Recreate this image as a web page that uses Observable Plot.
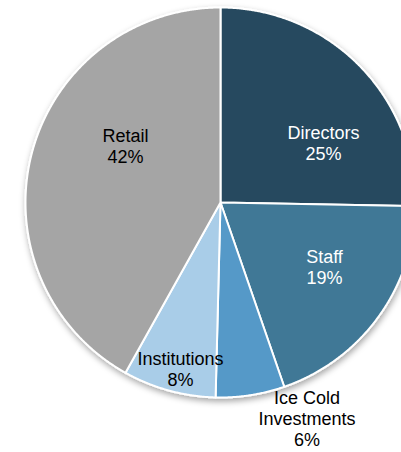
<!DOCTYPE html>
<html>
<head>
<meta charset="utf-8">
<script src="https://cdn.jsdelivr.net/npm/d3@7"></script>
<script src="https://cdn.jsdelivr.net/npm/@observablehq/plot@0.6"></script>
<style>
  html, body { margin: 0; padding: 0; background: #fff; overflow: hidden; }
  svg { overflow: hidden; }
</style>
</head>
<body>
<div id="chart"></div>
<script>
// Data
const categories = ["Directors", "Staff", "Ice Cold Investments", "Institutions", "Retail"];
const shares = [25.3, 19.4, 5.7, 7.7, 41.9];
const percentLabels = ["25%", "19%", "6%", "8%", "42%"];
const labelNames = ["Directors", "Staff", "Ice Cold\nInvestments", "Institutions", "Retail"];
const colors = ["#264a5e", "#3f7896", "#5599c8", "#a9cde8", "#a5a5a5"];

// Layout (style, not data)
const W = 401, H = 452;
const R = 195;
const labelAnchors = {           // label block centres relative to pie centre
  "Directors": [103, -60],
  "Staff": [104, 64],
  "Ice Cold Investments": [86.5, 216],
  "Institutions": [-40, 166],
  "Retail": [-95, -57]
};
const labelColor = {"Directors": "white", "Staff": "white", "Ice Cold Investments": "black", "Institutions": "black", "Retail": "black"};

// Slices as polygons built from the values via d3.pie angles
const pie = d3.pie().sort(null).value(d => d)(shares);
const slicePts = [];
pie.forEach((p, i) => {
  const name = categories[i];
  slicePts.push({name, x: 0, y: 0});
  const n = Math.max(2, Math.ceil((p.endAngle - p.startAngle) / 0.005));
  for (let k = 0; k <= n; k++) {
    const a = p.startAngle + (p.endAngle - p.startAngle) * k / n;
    slicePts.push({name, x: R * Math.sin(a), y: -R * Math.cos(a)});
  }
  slicePts.push({name, x: 0, y: 0});
});

const labels = categories.map((c, i) => ({
  name: c,
  text: labelNames[i] + "\n" + percentLabels[i],
  x: labelAnchors[c][0],
  y: labelAnchors[c][1]
}));

const chart = Plot.plot({
  width: W,
  height: H,
  margin: 0,
  x: {domain: [-220, 181], range: [0, W], axis: null},
  y: {domain: [-202, 250], range: [0, H], axis: null},
  color: {domain: categories, range: colors},
  style: {fontFamily: "Liberation Sans, Arial, sans-serif", background: "white"},
  marks: [
    Plot.line(slicePts, {x: "x", y: "y", z: "name", fill: "name", stroke: "white", strokeWidth: 2, strokeLinejoin: "round", curve: "linear"}),
    Plot.text(labels, {x: "x", y: "y", text: "text", fill: d => labelColor[d.name], fontSize: 18, lineHeight: 1.17, lineAnchor: "middle", textAnchor: "middle"})
  ]
});

// subtle drop shadow under the pie
const svgNS = "http://www.w3.org/2000/svg";
const defs = document.createElementNS(svgNS, "defs");
defs.innerHTML = '<filter id="pieShadow" x="-20%" y="-20%" width="140%" height="140%"><feDropShadow dx="1" dy="3" stdDeviation="3" flood-color="#000" flood-opacity="0.35"/></filter>';
chart.insertBefore(defs, chart.firstChild);
const lineG = chart.querySelector('g[aria-label="line"]');
if (lineG) lineG.setAttribute("filter", "url(#pieShadow)");

document.getElementById("chart").appendChild(chart);
</script>
</body>
</html>
